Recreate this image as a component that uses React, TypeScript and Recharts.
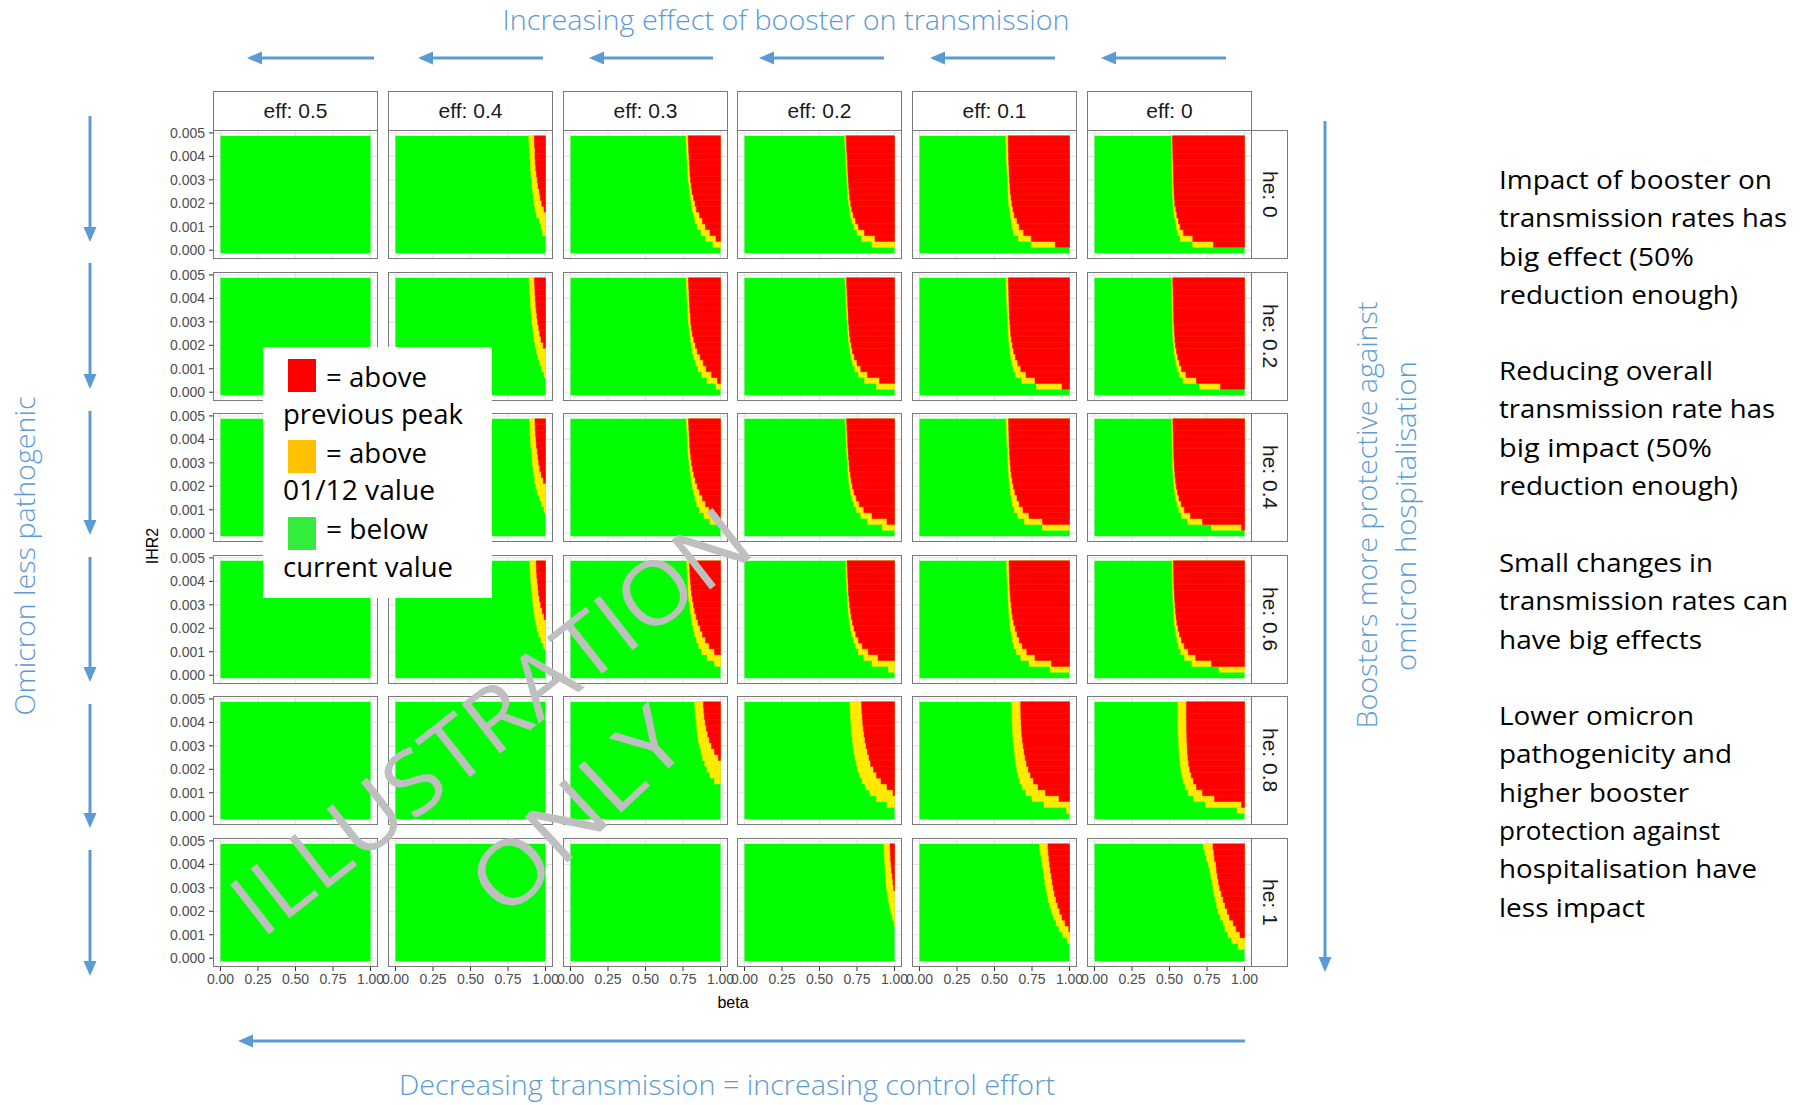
import React from "react";
import { ComposedChart, XAxis, YAxis, CartesianGrid, ReferenceArea } from "recharts";

// facet levels
const EFF_LEVELS = ["0.5", "0.4", "0.3", "0.2", "0.1", "0"];
const HE_LEVELS = ["0", "0.2", "0.4", "0.6", "0.8", "1"];

// IHR2 row centres, bottom to top
const IHR2_ROWS = [
  0, 0.00025, 0.0005, 0.00075, 0.001, 0.00125, 0.0015, 0.00175, 0.002, 0.00225,
  0.0025, 0.00275, 0.003, 0.00325, 0.0035, 0.00375, 0.004, 0.00425, 0.0045, 0.00475,
];
const BETA_TICKS = [0, 0.25, 0.5, 0.75, 1];
const BETA_MINOR = [0.125, 0.375, 0.625, 0.875];
const IHR2_TICKS = [0, 0.001, 0.002, 0.003, 0.004, 0.005];
const IHR2_MINOR = [0.0005, 0.0015, 0.0025, 0.0035, 0.0045];

// beta where green ends / red starts, per row (bottom to top); 1 = none
const ALL_GREEN = [1, 1, 1, 1, 1, 1, 1, 1, 1, 1, 1, 1, 1, 1, 1, 1, 1, 1, 1, 1];

const GREEN_END_HE0 = [
  ALL_GREEN,
  [1, 1, 1, 0.98, 0.97, 0.96, 0.94, 0.93, 0.925, 0.92, 0.915, 0.91, 0.906, 0.903, 0.9, 0.9, 0.895, 0.893, 0.891, 0.889],
  [1, 0.95, 0.9, 0.87, 0.845, 0.83, 0.82, 0.81, 0.805, 0.8, 0.795, 0.79, 0.785, 0.782, 0.78, 0.778, 0.776, 0.774, 0.772, 0.77],
  [1, 0.85, 0.78, 0.75, 0.73, 0.715, 0.705, 0.7, 0.695, 0.69, 0.688, 0.685, 0.683, 0.68, 0.678, 0.676, 0.674, 0.672, 0.67, 0.668],
  [1, 0.745, 0.66, 0.627, 0.618, 0.612, 0.605, 0.6, 0.594, 0.592, 0.59, 0.589, 0.587, 0.585, 0.583, 0.58, 0.579, 0.578, 0.577, 0.576],
  [1, 0.655, 0.571, 0.555, 0.545, 0.538, 0.531, 0.527, 0.524, 0.522, 0.52, 0.519, 0.518, 0.517, 0.516, 0.515, 0.514, 0.514, 0.513, 0.513],
];
const RED_START_HE0 = [
  ALL_GREEN,
  [1, 1, 1, 1, 1, 1, 1, 0.99, 0.975, 0.965, 0.96, 0.95, 0.945, 0.94, 0.935, 0.932, 0.93, 0.93, 0.927, 0.925],
  [1, 1, 0.97, 0.93, 0.9, 0.88, 0.86, 0.84, 0.83, 0.82, 0.81, 0.805, 0.8, 0.797, 0.795, 0.792, 0.79, 0.788, 0.787, 0.785],
  [1, 1, 0.87, 0.8, 0.76, 0.74, 0.725, 0.715, 0.708, 0.702, 0.698, 0.695, 0.692, 0.69, 0.688, 0.686, 0.684, 0.682, 0.68, 0.678],
  [1, 0.905, 0.745, 0.694, 0.665, 0.65, 0.632, 0.623, 0.616, 0.61, 0.605, 0.603, 0.6, 0.598, 0.597, 0.595, 0.594, 0.593, 0.592, 0.592],
  [1, 0.793, 0.655, 0.593, 0.571, 0.56, 0.549, 0.542, 0.535, 0.532, 0.53, 0.528, 0.527, 0.526, 0.525, 0.524, 0.523, 0.522, 0.521, 0.52],
];

const GREEN_END_HE02 = [
  ALL_GREEN,
  [1, 1, 1, 0.99, 0.975, 0.96, 0.95, 0.94, 0.93, 0.925, 0.92, 0.915, 0.91, 0.906, 0.903, 0.9, 0.898, 0.895, 0.893, 0.89],
  [1, 0.97, 0.91, 0.875, 0.85, 0.835, 0.822, 0.812, 0.806, 0.8, 0.796, 0.791, 0.786, 0.783, 0.781, 0.779, 0.777, 0.775, 0.773, 0.771],
  [1, 0.88, 0.8, 0.76, 0.735, 0.72, 0.71, 0.703, 0.698, 0.693, 0.69, 0.687, 0.685, 0.682, 0.68, 0.678, 0.676, 0.674, 0.672, 0.67],
  [1, 0.78, 0.68, 0.64, 0.625, 0.615, 0.608, 0.603, 0.598, 0.595, 0.592, 0.59, 0.588, 0.586, 0.584, 0.582, 0.58, 0.579, 0.578, 0.577],
  [1, 0.7, 0.59, 0.565, 0.552, 0.543, 0.536, 0.531, 0.527, 0.524, 0.522, 0.521, 0.52, 0.519, 0.518, 0.517, 0.516, 0.515, 0.515, 0.514],
];
const RED_START_HE02 = [
  ALL_GREEN,
  [1, 1, 1, 1, 1, 1, 1, 1, 0.985, 0.97, 0.962, 0.955, 0.948, 0.943, 0.938, 0.935, 0.932, 0.93, 0.928, 0.926],
  [1, 1, 0.98, 0.94, 0.905, 0.885, 0.865, 0.845, 0.832, 0.822, 0.812, 0.806, 0.801, 0.8, 0.796, 0.793, 0.791, 0.79, 0.788, 0.786],
  [1, 1, 0.9, 0.82, 0.775, 0.75, 0.732, 0.72, 0.712, 0.705, 0.7, 0.697, 0.694, 0.692, 0.69, 0.688, 0.686, 0.684, 0.682, 0.68],
  [1, 0.95, 0.77, 0.71, 0.675, 0.655, 0.64, 0.628, 0.62, 0.613, 0.608, 0.605, 0.602, 0.6, 0.598, 0.597, 0.596, 0.595, 0.594, 0.593],
  [1, 0.84, 0.68, 0.61, 0.58, 0.566, 0.555, 0.547, 0.54, 0.536, 0.533, 0.531, 0.529, 0.528, 0.527, 0.526, 0.525, 0.524, 0.523, 0.522],
];

const GREEN_END_HE04 = [
  ALL_GREEN,
  [1, 1, 1, 1, 0.99, 0.975, 0.96, 0.945, 0.935, 0.928, 0.922, 0.917, 0.912, 0.908, 0.905, 0.902, 0.9, 0.897, 0.895, 0.893],
  [1, 1, 0.93, 0.89, 0.86, 0.842, 0.83, 0.82, 0.812, 0.805, 0.8, 0.795, 0.79, 0.786, 0.783, 0.781, 0.779, 0.777, 0.775, 0.773],
  [1, 0.92, 0.82, 0.775, 0.745, 0.728, 0.716, 0.707, 0.7, 0.695, 0.691, 0.688, 0.686, 0.683, 0.681, 0.679, 0.677, 0.675, 0.673, 0.671],
  [1, 0.82, 0.7, 0.655, 0.632, 0.62, 0.612, 0.606, 0.601, 0.597, 0.594, 0.592, 0.59, 0.588, 0.586, 0.584, 0.582, 0.58, 0.579, 0.578],
  [1, 0.78, 0.62, 0.58, 0.562, 0.55, 0.541, 0.535, 0.53, 0.527, 0.524, 0.522, 0.521, 0.52, 0.519, 0.518, 0.517, 0.516, 0.515, 0.515],
];
const RED_START_HE04 = [
  ALL_GREEN,
  [1, 1, 1, 1, 1, 1, 1, 1, 1, 0.985, 0.972, 0.962, 0.955, 0.95, 0.945, 0.94, 0.937, 0.934, 0.932, 0.93],
  [1, 1, 1, 0.97, 0.925, 0.9, 0.88, 0.86, 0.845, 0.832, 0.822, 0.814, 0.807, 0.802, 0.798, 0.795, 0.793, 0.791, 0.789, 0.787],
  [1, 1, 0.95, 0.85, 0.795, 0.765, 0.745, 0.73, 0.72, 0.712, 0.706, 0.7, 0.697, 0.694, 0.691, 0.689, 0.687, 0.685, 0.683, 0.681],
  [1, 1, 0.82, 0.73, 0.69, 0.665, 0.65, 0.636, 0.626, 0.618, 0.612, 0.608, 0.605, 0.602, 0.6, 0.598, 0.597, 0.596, 0.595, 0.594],
  [1, 0.98, 0.72, 0.64, 0.6, 0.578, 0.563, 0.553, 0.545, 0.54, 0.536, 0.533, 0.531, 0.529, 0.528, 0.527, 0.526, 0.525, 0.524, 0.523],
];

const GREEN_END_HE06 = [
  ALL_GREEN,
  [1, 1, 1, 1, 1, 0.985, 0.97, 0.955, 0.943, 0.935, 0.928, 0.922, 0.917, 0.912, 0.908, 0.905, 0.902, 0.9, 0.898, 0.896],
  [1, 1, 0.96, 0.91, 0.875, 0.855, 0.84, 0.828, 0.818, 0.81, 0.804, 0.798, 0.793, 0.789, 0.786, 0.783, 0.781, 0.779, 0.777, 0.775],
  [1, 0.96, 0.85, 0.795, 0.76, 0.74, 0.726, 0.715, 0.707, 0.701, 0.696, 0.692, 0.689, 0.686, 0.684, 0.682, 0.68, 0.678, 0.676, 0.674],
  [1, 0.87, 0.73, 0.675, 0.645, 0.63, 0.62, 0.612, 0.606, 0.601, 0.598, 0.595, 0.593, 0.591, 0.589, 0.587, 0.585, 0.583, 0.582, 0.581],
  [1, 0.83, 0.65, 0.6, 0.575, 0.56, 0.55, 0.543, 0.537, 0.532, 0.529, 0.527, 0.525, 0.523, 0.522, 0.521, 0.52, 0.519, 0.518, 0.517],
];
const RED_START_HE06 = [
  ALL_GREEN,
  [1, 1, 1, 1, 1, 1, 1, 1, 1, 1, 0.99, 0.978, 0.968, 0.96, 0.954, 0.95, 0.946, 0.942, 0.94, 0.938],
  [1, 1, 1, 1, 0.96, 0.925, 0.9, 0.88, 0.865, 0.85, 0.838, 0.828, 0.82, 0.813, 0.807, 0.803, 0.8, 0.797, 0.795, 0.793],
  [1, 1, 1, 0.89, 0.825, 0.785, 0.76, 0.742, 0.73, 0.72, 0.712, 0.706, 0.701, 0.697, 0.694, 0.692, 0.69, 0.688, 0.686, 0.684],
  [1, 1, 0.88, 0.77, 0.715, 0.685, 0.665, 0.65, 0.638, 0.628, 0.621, 0.615, 0.611, 0.607, 0.604, 0.602, 0.6, 0.599, 0.598, 0.597],
  [1, 1, 0.78, 0.675, 0.625, 0.598, 0.58, 0.567, 0.557, 0.549, 0.544, 0.54, 0.537, 0.534, 0.532, 0.53, 0.529, 0.528, 0.527, 0.526],
];

const GREEN_END_HE08 = [
  ALL_GREEN,
  ALL_GREEN,
  [1, 1, 1, 1, 1, 1, 0.96, 0.93, 0.91, 0.895, 0.88, 0.87, 0.86, 0.853, 0.847, 0.842, 0.838, 0.834, 0.83, 0.827],
  [1, 1, 0.95, 0.88, 0.835, 0.805, 0.785, 0.768, 0.755, 0.745, 0.737, 0.73, 0.724, 0.719, 0.715, 0.712, 0.709, 0.707, 0.705, 0.703],
  [1, 0.98, 0.83, 0.75, 0.71, 0.685, 0.67, 0.658, 0.649, 0.642, 0.637, 0.632, 0.628, 0.625, 0.622, 0.62, 0.618, 0.616, 0.615, 0.614],
  [1, 0.95, 0.74, 0.66, 0.625, 0.605, 0.592, 0.583, 0.576, 0.571, 0.567, 0.564, 0.562, 0.56, 0.558, 0.557, 0.556, 0.555, 0.555, 0.555],
];
const RED_START_HE08 = [
  ALL_GREEN,
  ALL_GREEN,
  [1, 1, 1, 1, 1, 1, 1, 1, 1, 1, 0.985, 0.96, 0.94, 0.925, 0.915, 0.905, 0.898, 0.893, 0.889, 0.886],
  [1, 1, 1, 1, 0.99, 0.95, 0.91, 0.88, 0.86, 0.84, 0.83, 0.82, 0.81, 0.803, 0.797, 0.792, 0.788, 0.785, 0.782, 0.78],
  [1, 1, 1, 0.93, 0.84, 0.79, 0.76, 0.74, 0.725, 0.713, 0.704, 0.697, 0.691, 0.686, 0.682, 0.679, 0.677, 0.676, 0.675, 0.674],
  [1, 1, 0.98, 0.8, 0.72, 0.68, 0.66, 0.645, 0.635, 0.628, 0.623, 0.62, 0.618, 0.616, 0.615, 0.614, 0.614, 0.613, 0.613, 0.613],
];

const GREEN_END_HE1 = [
  ALL_GREEN,
  ALL_GREEN,
  ALL_GREEN,
  [1, 1, 1, 1, 1, 1, 0.995, 0.985, 0.975, 0.966, 0.958, 0.952, 0.947, 0.943, 0.94, 0.937, 0.935, 0.933, 0.931, 0.93],
  [1, 1, 1, 0.985, 0.955, 0.93, 0.91, 0.893, 0.88, 0.868, 0.858, 0.85, 0.843, 0.836, 0.83, 0.824, 0.818, 0.812, 0.806, 0.8],
  [1, 1, 0.958, 0.913, 0.89, 0.87, 0.858, 0.84, 0.825, 0.814, 0.805, 0.797, 0.79, 0.783, 0.776, 0.77, 0.758, 0.747, 0.736, 0.725],
];
const RED_START_HE1 = [
  ALL_GREEN,
  ALL_GREEN,
  ALL_GREEN,
  [1, 1, 1, 1, 1, 1, 1, 1, 1, 1, 1, 1, 0.995, 0.99, 0.985, 0.98, 0.977, 0.974, 0.972, 0.97],
  [1, 1, 1, 1, 1, 0.995, 0.97, 0.95, 0.935, 0.922, 0.91, 0.9, 0.892, 0.885, 0.879, 0.873, 0.868, 0.863, 0.859, 0.856],
  [1, 1, 1, 1, 0.97, 0.945, 0.925, 0.9, 0.885, 0.87, 0.858, 0.846, 0.835, 0.827, 0.82, 0.814, 0.81, 0.8, 0.796, 0.79],
];

const GREEN_END = [GREEN_END_HE0, GREEN_END_HE02, GREEN_END_HE04, GREEN_END_HE06, GREEN_END_HE08, GREEN_END_HE1];
const RED_START = [RED_START_HE0, RED_START_HE02, RED_START_HE04, RED_START_HE06, RED_START_HE08, RED_START_HE1];

// annotation text
const NOTE_LINES = [
  ["Impact of booster on", "transmission rates has", "big effect (50%", "reduction enough)"],
  ["Reducing overall", "transmission rate has", "big impact (50%", "reduction enough)"],
  ["Small changes in", "transmission rates can", "have big effects"],
  ["Lower omicron", "pathogenicity and", "higher booster", "protection against", "hospitalisation have", "less impact"],
];
const NOTE_WIDTHS = [
  [273, 288, 195, 239],
  [214, 276, 213, 239],
  [214, 289, 203],
  [195, 233, 190, 221, 258, 146],
];

const GREEN = "#00ff00";
const YELLOW = "#ffea00";
const RED = "#ff0000";
const BLUE = "#5b9bd5";

// facet geometry
const X0 = 213;
const Y0 = 130;
const PITCH_X = 174.8;
const PITCH_Y = 141.6;
const PW = 165;
const PH = 129;
const HALF = 0.000125;

function Panel({ row, col }: { row: number; col: number }) {
  const ge = GREEN_END[row][col];
  const rs = RED_START[row][col];
  const showX = row === 5;
  const showY = col === 0;
  const yW = showY ? 60 : 0;
  const xH = showX ? 30 : 0;
  const pad = showX ? 20 : 0;
  const padT = showY ? 10 : 0;
  const left = Math.round(X0 + col * PITCH_X);
  const top = Math.round(Y0 + row * PITCH_Y);
  const data = IHR2_ROWS.map((y, i) => ({ ihr2: y, green: ge[i], red: rs[i] }));
  const tickStyle = { fontSize: 14, fill: "#4d4d4d", fontFamily: "Liberation Sans, Arial, sans-serif" };

  return (
    <>
      <div style={{ position: "absolute", left: left - yW - pad, top: top - padT }}>
        <ComposedChart
          width={PW + yW + 2 * pad}
          height={PH + xH + padT}
          data={data}
          margin={{ top: padT, right: pad, bottom: 0, left: pad }}
        >
          <CartesianGrid
            stroke="#f0f0f0"
            strokeWidth={0.7}
            horizontalValues={IHR2_MINOR}
            verticalValues={BETA_MINOR}
          />
          <CartesianGrid
            stroke="#e4e4e4"
            strokeWidth={1.1}
            horizontalValues={IHR2_TICKS}
            verticalValues={BETA_TICKS}
          />
          <XAxis
            type="number"
            dataKey="green"
            domain={[-0.05, 1.05]}
            ticks={BETA_TICKS}
            interval={0}
            allowDataOverflow
            hide={!showX}
            height={xH}
            axisLine={false}
            tickSize={4}
            tickMargin={3}
            tickLine={{ stroke: "#333" }}
            tick={tickStyle}
            tickFormatter={(v: number) => v.toFixed(2)}
          />
          <YAxis
            type="number"
            dataKey="ihr2"
            domain={[-0.000375, 0.005125]}
            ticks={IHR2_TICKS}
            interval={0}
            allowDataOverflow
            hide={!showY}
            width={yW}
            axisLine={false}
            tickSize={4}
            tickMargin={4}
            tickLine={{ stroke: "#333" }}
            tick={tickStyle}
            tickFormatter={(v: number) => v.toFixed(3)}
          />
          <ReferenceArea
            x1={0}
            x2={1}
            y1={IHR2_ROWS[0] - HALF}
            y2={IHR2_ROWS[IHR2_ROWS.length - 1] + HALF}
            fill={GREEN}
            fillOpacity={1}
            stroke="none"
          />
          {data.map((d, i) =>
            d.green < 1 ? (
              <ReferenceArea
                key={`y${i}`}
                x1={d.green}
                x2={1}
                y1={d.ihr2 - HALF}
                y2={d.ihr2 + HALF}
                fill={YELLOW}
                fillOpacity={1}
                stroke={YELLOW}
                strokeWidth={0.5}
              />
            ) : null
          )}
          {data.map((d, i) =>
            d.red < 1 ? (
              <ReferenceArea
                key={`r${i}`}
                x1={d.red}
                x2={1}
                y1={d.ihr2 - HALF}
                y2={d.ihr2 + HALF}
                fill={RED}
                fillOpacity={1}
                stroke={RED}
                strokeWidth={0.5}
              />
            ) : null
          )}
        </ComposedChart>
      </div>
      <div
        style={{
          position: "absolute",
          left,
          top,
          width: PW,
          height: PH,
          border: "1px solid #7a7a7a",
          boxSizing: "border-box",
          pointerEvents: "none",
          zIndex: 2,
        }}
      />
    </>
  );
}

function Arrow({ x1, y1, x2, y2 }: { x1: number; y1: number; x2: number; y2: number }) {
  const ang = Math.atan2(y2 - y1, x2 - x1);
  const L = 15;
  const W = 6.5;
  const bx = x2 - L * Math.cos(ang);
  const by = y2 - L * Math.sin(ang);
  const px = -Math.sin(ang) * W;
  const py = Math.cos(ang) * W;
  return (
    <g>
      <line x1={x1} y1={y1} x2={bx} y2={by} stroke={BLUE} strokeWidth={3} />
      <polygon points={`${x2},${y2} ${bx + px},${by + py} ${bx - px},${by - py}`} fill={BLUE} />
    </g>
  );
}

const TOP_ARROWS = [[374, 247], [543, 418], [713, 589], [884, 759], [1055, 930], [1226, 1101]];
const LEFT_ARROWS = [[116, 242], [263, 389], [411, 535], [557, 682], [704, 828], [850, 976]];

export default function App() {
  const stripFont = "Liberation Sans, Arial, sans-serif";
  const noteFont = "Open Sans, Noto Sans, sans-serif";
  const cells = [];
  for (let r = 0; r < 6; r++) for (let c = 0; c < 6; c++) cells.push(<Panel key={`${r}-${c}`} row={r} col={c} />);

  return (
    <div style={{ position: "absolute", left: 0, top: 0, width: 1804, height: 1105, background: "#fff", overflow: "hidden" }}>
      {cells}

      {EFF_LEVELS.map((e, c) => (
        <div
          key={e}
          style={{
            position: "absolute",
            left: Math.round(X0 + c * PITCH_X),
            top: 91,
            width: PW,
            height: 40,
            border: "1px solid #7a7a7a",
            boxSizing: "border-box",
            background: "#fff",
            display: "flex",
            alignItems: "center",
            justifyContent: "center",
            fontFamily: stripFont,
            fontSize: 21,
            color: "#1a1a1a",
          }}
        >
          eff: {e}
        </div>
      ))}
      {HE_LEVELS.map((h, r) => (
        <div
          key={h}
          style={{
            position: "absolute",
            left: Math.round(X0 + 5 * PITCH_X) + PW - 1,
            top: Math.round(Y0 + r * PITCH_Y),
            width: 37,
            height: PH,
            border: "1px solid #7a7a7a",
            boxSizing: "border-box",
            background: "#fff",
            display: "flex",
            alignItems: "center",
            justifyContent: "center",
            fontFamily: stripFont,
            fontSize: 21,
            color: "#1a1a1a",
          }}
        >
          <span style={{ writingMode: "vertical-rl" }}>he: {h}</span>
        </div>
      ))}

      <svg width={1804} height={1105} style={{ position: "absolute", left: 0, top: 0, zIndex: 5, pointerEvents: "none" }}>
        <text x={733} y={1008} textAnchor="middle" fontFamily={stripFont} fontSize={16} fill="#000">
          beta
        </text>
        <text x={158} y={546} textAnchor="middle" fontFamily={stripFont} fontSize={16} fill="#000" transform="rotate(-90 158 546)">
          IHR2
        </text>

        {/* blue annotations */}
        <text x={786} y={30} textAnchor="middle" fontFamily={noteFont} fontWeight={300} fontSize={28} fill={BLUE} textLength={567} lengthAdjust="spacingAndGlyphs">
          Increasing effect of booster on transmission
        </text>
        <text x={727} y={1095} textAnchor="middle" fontFamily={noteFont} fontWeight={300} fontSize={28} fill={BLUE} textLength={656} lengthAdjust="spacingAndGlyphs">
          Decreasing transmission = increasing control effort
        </text>
        <text x={35} y={556} textAnchor="middle" fontFamily={noteFont} fontWeight={300} fontSize={28} fill={BLUE} textLength={319} lengthAdjust="spacingAndGlyphs" transform="rotate(-90 35 556)">
          Omicron less pathogenic
        </text>
        <text x={1377} y={515} textAnchor="middle" fontFamily={noteFont} fontWeight={300} fontSize={28} fill={BLUE} textLength={427} lengthAdjust="spacingAndGlyphs" transform="rotate(-90 1377 515)">
          Boosters more protective against
        </text>
        <text x={1416} y={516} textAnchor="middle" fontFamily={noteFont} fontWeight={300} fontSize={28} fill={BLUE} textLength={310} lengthAdjust="spacingAndGlyphs" transform="rotate(-90 1416 516)">
          omicron  hospitalisation
        </text>
        {TOP_ARROWS.map(([a, b], i) => (
          <Arrow key={`t${i}`} x1={a} y1={58} x2={b} y2={58} />
        ))}
        {LEFT_ARROWS.map(([a, b], i) => (
          <Arrow key={`l${i}`} x1={90} y1={a} x2={90} y2={b} />
        ))}
        <Arrow x1={1325} y1={121} x2={1325} y2={972} />
        <Arrow x1={1245} y1={1041} x2={238} y2={1041} />

        {/* right-hand notes */}
        {NOTE_LINES.map((para, p) =>
          para.map((line, i) => (
            <text
              key={`${p}-${i}`}
              x={1499}
              y={[189, 380, 572, 725][p] + i * 38.3}
              fontFamily={noteFont}
              fontSize={26}
              fill="#000"
              textLength={NOTE_WIDTHS[p][i]}
              lengthAdjust="spacingAndGlyphs"
            >
              {line}
            </text>
          ))
        )}

        {/* legend box */}
        <rect x={263} y={347} width={229} height={251} fill="#fff" />
        <rect x={288} y={359} width={28} height={33} fill="#ff0000" />
        <rect x={288} y={440} width={28} height={33} fill="#ffc000" />
        <rect x={288} y={517} width={28} height={33} fill="#33ec3b" />
        <g fontFamily={noteFont} fontSize={27} fill="#000">
          <text x={326} y={387} textLength={101} lengthAdjust="spacingAndGlyphs">= above</text>
          <text x={283} y={424} textLength={180} lengthAdjust="spacingAndGlyphs">previous peak</text>
          <text x={326} y={463} textLength={101} lengthAdjust="spacingAndGlyphs">= above</text>
          <text x={283} y={500} textLength={152} lengthAdjust="spacingAndGlyphs">01/12 value</text>
          <text x={326} y={539} textLength={102} lengthAdjust="spacingAndGlyphs">= below</text>
          <text x={283} y={577} textLength={170} lengthAdjust="spacingAndGlyphs">current value</text>
        </g>

        {/* watermark */}
        <g fontFamily={noteFont} fontWeight={400} fontSize={88} fill="#bfbfbf">
          <text x={489} y={719} textAnchor="middle" dominantBaseline="central" textLength={630} lengthAdjust="spacingAndGlyphs" transform="rotate(-38 489 719)">
            ILLUSTRATION
          </text>
          <text x={575} y={809} textAnchor="middle" dominantBaseline="central" textLength={255} lengthAdjust="spacingAndGlyphs" transform="rotate(-43 575 809)">
            ONLY
          </text>
        </g>
      </svg>
    </div>
  );
}
